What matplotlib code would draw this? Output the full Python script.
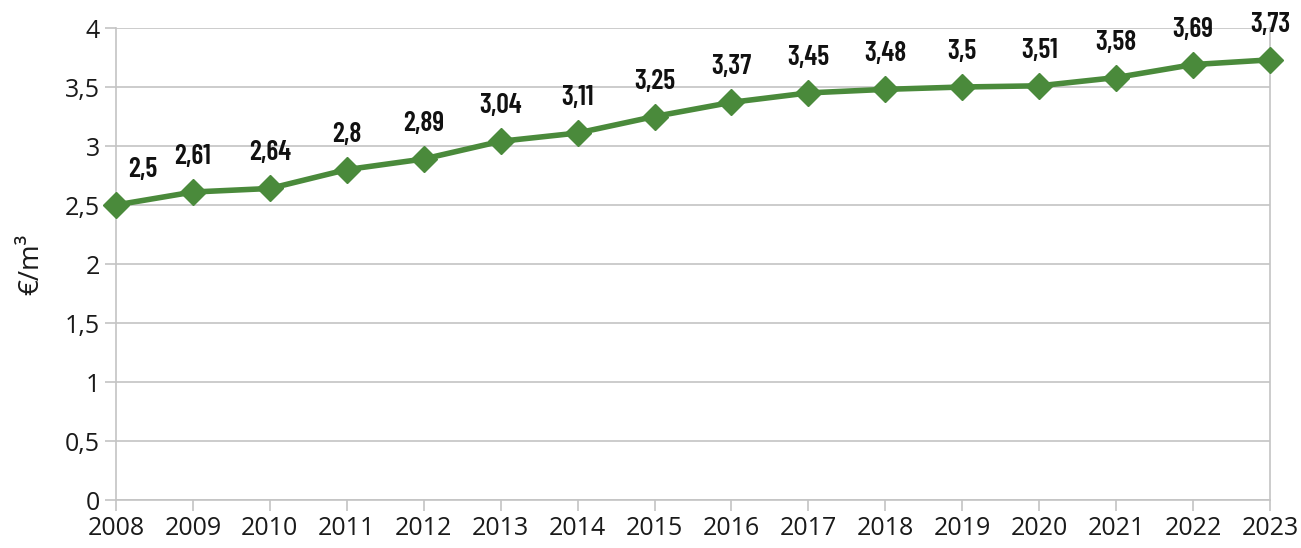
import matplotlib
matplotlib.use("Agg")
import matplotlib.pyplot as plt

years = list(range(2008, 2024))
prices = [2.5, 2.61, 2.64, 2.8, 2.89, 3.04, 3.11, 3.25, 3.37, 3.45, 3.48, 3.5, 3.51, 3.58, 3.69, 3.73]
labels = [str(v).replace(".", ",") for v in prices]
yticks = [0, 0.5, 1, 1.5, 2, 2.5, 3, 3.5, 4]

plt.rcParams['font.family'] = ['Open Sans', 'DejaVu Sans']
green = "#4a8a3b"
grid = "#c4c4c4"

fig = plt.figure(figsize=(13.01, 5.48), dpi=100)
ax = fig.add_axes([116/1301, 1-500/548, (1270-116)/1301, (500-28)/548])

ax.plot(years, prices, color=green, lw=4, marker="D", ms=13, zorder=3, clip_on=False)
for i, (x, y, t) in enumerate(zip(years, prices, labels)):
    dx = 27 if i == 0 else 0  # first label sits right of its point
    ax.annotate(t, (x, y), xytext=(dx, 23), textcoords="offset pixels",
                ha="center", va="bottom", fontsize=20, fontweight=600,
                family=["Barlow Condensed", "DejaVu Sans"], color="#111111")

ax.set_xlim(2008, 2023)
ax.set_ylim(0, 4)
ax.set_xticks(years)
ax.set_yticks(yticks)
ax.set_yticklabels([("%g" % v).replace(".", ",") for v in yticks])
ax.yaxis.grid(True, color=grid, lw=1.2)
ax.set_axisbelow(True)
ax.spines["top"].set_visible(False)
for s in ["left", "bottom", "right"]:
    ax.spines[s].set_color(grid)
    ax.spines[s].set_linewidth(1.2)
ax.tick_params(axis="both", colors=grid, length=8, width=1.2, labelsize=18, labelcolor="#1a1a1a")
ax.set_ylabel("€/m³", fontsize=20, color="#1a1a1a", labelpad=14)

fig.savefig("out.png", dpi=100)
